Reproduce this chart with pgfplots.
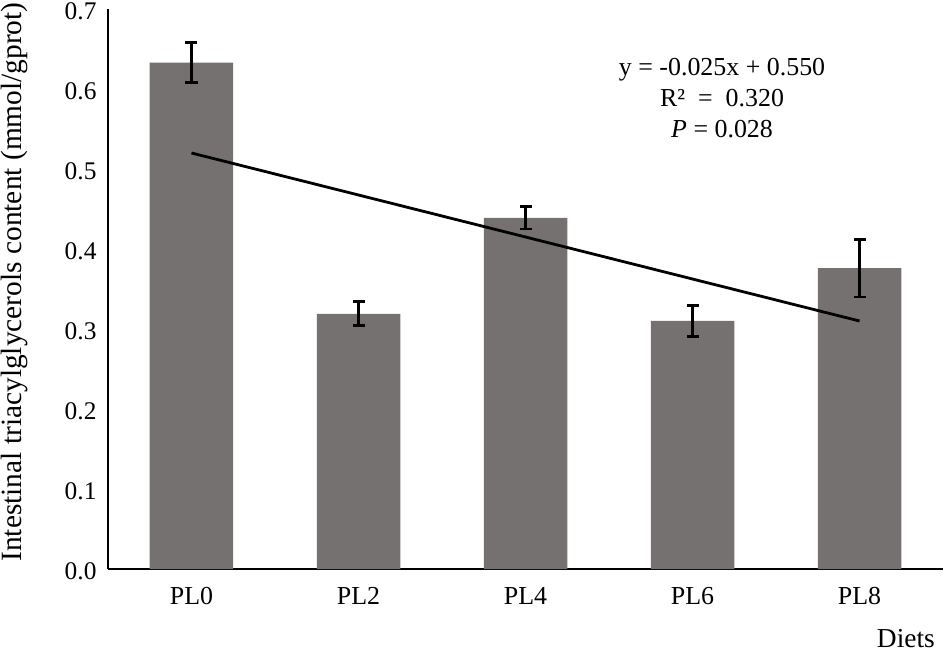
\documentclass[border=0pt]{standalone}
\usepackage{pgfplots}
\pgfplotsset{compat=1.18}
\usepackage{fontspec}
\setmainfont{Liberation Serif}
\definecolor{bargrey}{RGB}{118,113,113}
\pgfplotstableread{
x y err
0 0.633 0.025
1 0.319 0.015
2 0.439 0.014
3 0.310 0.019
4 0.376 0.036
}\datatable
\begin{document}
\begin{tikzpicture}
\begin{axis}[
  scale only axis,
  width=835bp, height=560bp,
  xmin=-0.5, xmax=4.5,
  ymin=0, ymax=0.7,
  axis lines*=left,
  axis line style={line width=2.6bp, black},
  xtick={0,1,2,3,4},
  xticklabels={PL0,PL2,PL4,PL6,PL8},
  ytick={0,0.1,0.2,0.3,0.4,0.5,0.6,0.7},
  yticklabel style={/pgf/number format/fixed, /pgf/number format/fixed zerofill, /pgf/number format/precision=1, xshift=-8bp, yshift=-2.5bp, font=\fontsize{25.5}{31}\selectfont},
  /pgf/number format/assume math mode=true,
  xticklabel style={yshift=-15bp, font=\fontsize{26}{31}\selectfont},
  major tick length=0pt,
  clip=false,
]
\addplot[ybar, bar width=0.5, fill=bargrey, draw=none,
  error bars/.cd, y dir=both, y explicit,
  error bar style={line width=2.6bp, black},
  error mark options={rotate=90, mark size=6bp, line width=2.6bp, black}]
  table[x=x, y=y, y error=err] {\datatable};
\addplot[black, line width=2.8bp, mark=none] coordinates {(0,0.520) (4,0.310)};
\coordinate (O) at (rel axis cs:0,0);
\node[anchor=base, inner sep=0, font=\fontsize{26}{31}\selectfont] at (axis cs:3.177,0.6169) {y = -0.025x + 0.550};
\node[anchor=base, inner sep=0, font=\fontsize{26}{31}\selectfont] at (axis cs:3.177,0.5775) {R²\ \ =\ \ 0.320};
\node[anchor=base, inner sep=0, font=\fontsize{26}{31}\selectfont] at (axis cs:3.177,0.5388) {\textit{P} = 0.028};
\node[anchor=base east, inner sep=0, font=\fontsize{27.5}{33}\selectfont] at ([xshift=-8bp,yshift=-78bp]rel axis cs:1,0) {Diets};
\node[rotate=90, anchor=base, inner sep=0, font=\fontsize{29.5}{35}\selectfont] at ([xshift=-86bp,yshift=7bp]rel axis cs:0,0.5) {Intestinal triacylglycerols content (mmol/gprot)};
\end{axis}
\pgfresetboundingbox
\path ([shift={(-108bp,-84bp)}]O) rectangle ++(945bp,653bp);
\end{tikzpicture}
\end{document}
